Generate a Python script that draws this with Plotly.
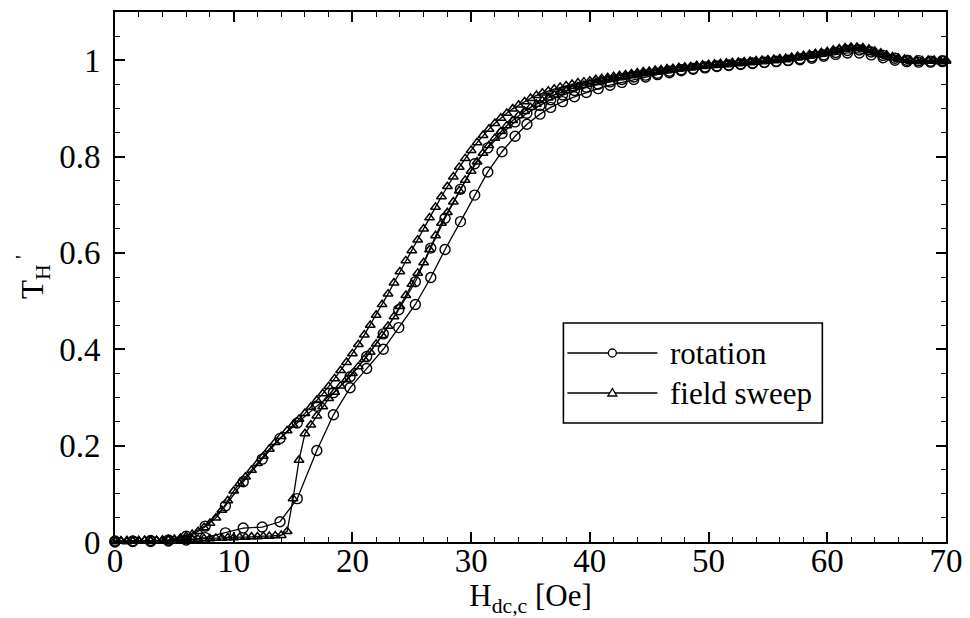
import numpy as np
import plotly.graph_objects as go

# ---------------- data ----------------
# field-sweep measurement, sampled every 0.5 Oe from 0 to 70 Oe
FS_H = np.arange(0, 70.001, 0.5)
# increasing branch (flat until ~14 Oe, then jump)
FS_UP = [
    0.001, 0.002, 0.001, 0.002, 0.002, 0.003, 0.002, 0.003, 0.003, 0.004,
    0.004, 0.005, 0.005, 0.006, 0.006, 0.007, 0.007, 0.008, 0.008, 0.009,
    0.009, 0.010, 0.010, 0.011, 0.011, 0.012, 0.012, 0.013, 0.014, 0.022,
    0.090, 0.170, 0.225, 0.243, 0.262, 0.281, 0.298, 0.311, 0.324, 0.337,
    0.350, 0.364, 0.379, 0.394, 0.411, 0.429, 0.448, 0.468, 0.489, 0.512,
    0.535, 0.558, 0.580, 0.607, 0.636, 0.662, 0.684, 0.706, 0.729, 0.751,
    0.770, 0.789, 0.807, 0.823, 0.838, 0.852, 0.864, 0.875, 0.885, 0.894,
    0.902, 0.909, 0.916, 0.922, 0.928, 0.933, 0.937, 0.941, 0.945, 0.948,
    0.951, 0.954, 0.957, 0.960, 0.962, 0.964, 0.966, 0.968, 0.970, 0.972,
    0.974, 0.976, 0.977, 0.979, 0.980, 0.982, 0.983, 0.984, 0.986, 0.987,
    0.988, 0.989, 0.990, 0.991, 0.992, 0.993, 0.994, 0.995, 0.996, 0.997,
    0.998, 0.999, 1.000, 1.001, 1.003, 1.005, 1.007, 1.009, 1.011, 1.013,
    1.015, 1.018, 1.021, 1.023, 1.024, 1.024, 1.023, 1.020, 1.016, 1.012,
    1.008, 1.005, 1.002, 1.000, 0.998, 0.998, 0.997, 0.998, 0.998, 0.997,
    0.998,
]
# decreasing branch (gradual, rises from ~6 Oe)
FS_DOWN = [
    0.003, 0.002, 0.003, 0.002, 0.003, 0.003, 0.002, 0.003, 0.004, 0.004,
    0.006, 0.008, 0.012, 0.016, 0.022, 0.030, 0.039, 0.050, 0.066, 0.086,
    0.106, 0.121, 0.135, 0.149, 0.163, 0.178, 0.193, 0.207, 0.219, 0.231,
    0.243, 0.255, 0.267, 0.280, 0.294, 0.308, 0.323, 0.339, 0.356, 0.373,
    0.391, 0.410, 0.430, 0.450, 0.471, 0.493, 0.515, 0.538, 0.561, 0.584,
    0.605, 0.627, 0.650, 0.673, 0.695, 0.717, 0.738, 0.758, 0.778, 0.796,
    0.813, 0.829, 0.844, 0.857, 0.869, 0.880, 0.890, 0.899, 0.907, 0.914,
    0.921, 0.927, 0.932, 0.936, 0.940, 0.944, 0.947, 0.950, 0.953, 0.955,
    0.957, 0.960, 0.962, 0.964, 0.966, 0.968, 0.970, 0.972, 0.974, 0.976,
    0.977, 0.979, 0.980, 0.982, 0.983, 0.985, 0.986, 0.987, 0.989, 0.990,
    0.991, 0.992, 0.993, 0.994, 0.995, 0.996, 0.997, 0.998, 0.999, 1.000,
    1.001, 1.002, 1.003, 1.004, 1.006, 1.008, 1.010, 1.012, 1.014, 1.016,
    1.018, 1.021, 1.024, 1.026, 1.027, 1.027, 1.026, 1.023, 1.019, 1.015,
    1.011, 1.007, 1.004, 1.002, 1.000, 1.000, 0.999, 1.000, 1.000, 0.999,
    1.000,
]

# rotation measurement
ROT_H = [
    0.0, 1.5, 3.0, 4.5, 6.0, 7.6, 9.3, 10.8, 12.4, 13.9,
    15.35, 17.0, 18.4, 19.8, 21.2, 22.6, 23.9, 25.3, 26.6, 27.8,
    29.1, 30.3, 31.4, 32.6, 33.7, 34.7, 35.8, 36.7, 37.7, 38.7,
    39.7, 40.7, 41.7, 42.7, 43.7, 44.7, 45.7, 46.7, 47.7, 48.7,
    49.7, 50.7, 51.7, 52.7, 53.7, 54.7, 55.7, 56.7, 57.7, 58.7,
    59.7, 60.7, 61.7, 62.7, 63.7, 64.7, 65.7, 66.7, 67.7, 68.7,
    69.7,
]
ROT_UP = [
    0.000, 0.001, 0.001, 0.002, 0.004, 0.009, 0.019, 0.029, 0.031, 0.042,
    0.090, 0.190, 0.264, 0.320, 0.360, 0.400, 0.445, 0.493, 0.549, 0.607,
    0.665, 0.720, 0.768, 0.810, 0.842, 0.867, 0.888, 0.902, 0.914, 0.924,
    0.933, 0.941, 0.948, 0.954, 0.960, 0.965, 0.970, 0.974, 0.978, 0.981,
    0.984, 0.987, 0.989, 0.991, 0.993, 0.995, 0.997, 0.999, 1.001, 1.004,
    1.008, 1.012, 1.015, 1.015, 1.011, 1.005, 1.000, 0.997, 0.996, 0.996,
    0.997,
]
ROT_DOWN = [
    0.002, 0.002, 0.003, 0.004, 0.012, 0.033, 0.075, 0.125, 0.172, 0.215,
    0.247, 0.282, 0.310, 0.343, 0.385, 0.432, 0.482, 0.540, 0.610, 0.672,
    0.732, 0.785, 0.818, 0.848, 0.872, 0.890, 0.906, 0.918, 0.928, 0.937,
    0.944, 0.950, 0.955, 0.960, 0.965, 0.969, 0.973, 0.977, 0.980, 0.983,
    0.986, 0.988, 0.990, 0.992, 0.994, 0.996, 0.998, 1.000, 1.003, 1.007,
    1.011, 1.016, 1.020, 1.021, 1.017, 1.010, 1.004, 1.000, 0.999, 0.998,
    0.999,
]

X_TICKS = [0, 10, 20, 30, 40, 50, 60, 70]
Y_TICKS = [0, 0.2, 0.4, 0.6, 0.8, 1]
Y_TICK_LABELS = ["0", "0.2", "0.4", "0.6", "0.8", "1"]
LEGEND_LABELS = ["rotation", "field sweep"]

# ---------------- figure ----------------
FONT = "Liberation Serif"
fs_h = list(FS_H)
fig = go.Figure()
fig.add_trace(go.Scatter(
    x=list(ROT_H) + list(ROT_H)[::-1],
    y=list(ROT_UP) + list(ROT_DOWN)[::-1],
    mode="lines+markers", name=LEGEND_LABELS[0], showlegend=False,
    line=dict(color="black", width=1.3),
    marker=dict(symbol="circle-open", size=10, color="black", line=dict(width=1.4)),
    cliponaxis=False,
))
fig.add_trace(go.Scatter(
    x=fs_h + fs_h[::-1],
    y=list(FS_UP) + list(FS_DOWN)[::-1],
    mode="lines+markers", name=LEGEND_LABELS[1], showlegend=False,
    line=dict(color="black", width=1.3),
    marker=dict(symbol="triangle-up-open", size=8.5, color="black", line=dict(width=1.5)),
    cliponaxis=False,
))

axis_common = dict(
    showline=True, linecolor="black", linewidth=2, mirror="ticks",
    ticks="inside", ticklen=10, tickwidth=1.5, tickcolor="black",
    showgrid=False, zeroline=False,
    tickfont=dict(family=FONT, size=33, color="black"),
)
fig.update_xaxes(
    range=[0, 70], tickvals=X_TICKS,
    minor=dict(dtick=2, ticks="inside", ticklen=5, tickwidth=1.2, tickcolor="black"),
    title=dict(text="H<sub>dc,c</sub> [Oe]", font=dict(family=FONT, size=31, color="black"), standoff=2),
    ticklabelstandoff=-12,
    **axis_common,
)
fig.update_yaxes(
    range=[0, 1.1], tickvals=Y_TICKS, ticktext=Y_TICK_LABELS,
    minor=dict(dtick=0.05, ticks="inside", ticklen=5, tickwidth=1.2, tickcolor="black"),
    title=dict(text="T<sub>H</sub><sup> '</sup>", font=dict(family=FONT, size=31, color="black"), standoff=6),
    ticklabelstandoff=6,
    **axis_common,
)

# legend box drawn in paper coordinates
bx0, bx1, by0, by1 = 0.5396, 0.8512, 0.2245, 0.4132
lx0, lx1, mx = 0.5444, 0.6527, 0.5985
rows = [0.3566, 0.2811]
tx = 0.6659
shapes = [dict(type="rect", xref="paper", yref="paper", x0=bx0, x1=bx1, y0=by0, y1=by1,
               line=dict(color="black", width=1.6), fillcolor="white", layer="above")]
annotations = []
for i, ry in enumerate(rows):
    shapes.append(dict(type="line", xref="paper", yref="paper", x0=lx0, x1=lx1, y0=ry, y1=ry,
                       line=dict(color="black", width=1.3), layer="above"))
    annotations.append(dict(text=LEGEND_LABELS[i], xref="paper", yref="paper", x=tx, y=ry,
                            xanchor="left", yanchor="middle", showarrow=False,
                            font=dict(family=FONT, size=31, color="black")))
shapes.append(dict(type="circle", xref="paper", yref="paper", xsizemode="pixel", ysizemode="pixel",
                   xanchor=mx, yanchor=rows[0], x0=-4, x1=4, y0=-4, y1=4,
                   line=dict(color="black", width=1.3), fillcolor="white", layer="above"))
shapes.append(dict(type="path", xref="paper", yref="paper", xsizemode="pixel", ysizemode="pixel",
                   xanchor=mx, yanchor=rows[1], path="M-4.5,-3 L4.5,-3 L0,4.5 Z",
                   line=dict(color="black", width=1.3), fillcolor="white", layer="above"))

fig.update_layout(
    width=970, height=618,
    margin=dict(l=114.5, r=24.3, t=12, b=76, autoexpand=False),
    paper_bgcolor="white", plot_bgcolor="white",
    showlegend=False, shapes=shapes, annotations=annotations,
    font=dict(family=FONT, color="black"),
)
fig.write_html("out.html")
